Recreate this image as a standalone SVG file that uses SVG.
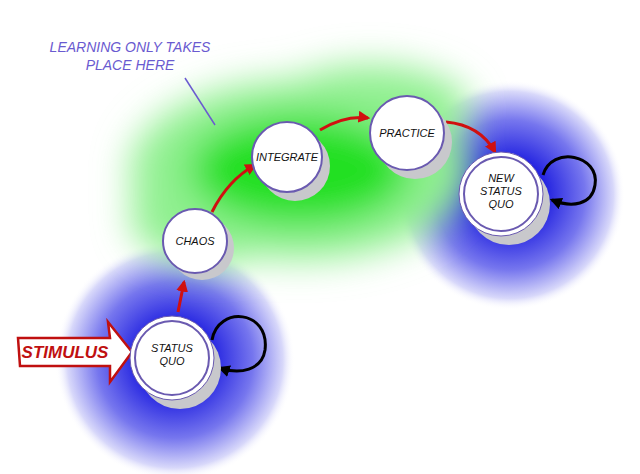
<svg xmlns="http://www.w3.org/2000/svg" width="640" height="474" viewBox="0 0 640 474">
<defs>
<radialGradient id="blue"><stop offset="0.3" stop-color="#2020e0"/><stop offset="0.65" stop-color="#7676ee"/><stop offset="0.9" stop-color="#d8d8fa"/><stop offset="1" stop-color="#ffffff" stop-opacity="0"/></radialGradient>
<filter id="soft" x="-30%" y="-30%" width="160%" height="160%"><feGaussianBlur stdDeviation="18"/></filter>
<marker id="ra" viewBox="0 0 10 10" refX="8" refY="5" markerWidth="4" markerHeight="4" orient="auto"><path d="M0,0 L10,5 L0,10 z" fill="#d01010"/></marker>
<marker id="ka" viewBox="0 0 10 10" refX="8" refY="5" markerWidth="4" markerHeight="4" orient="auto"><path d="M0,0 L10,5 L0,10 z" fill="#000"/></marker>
</defs>
<style>
.sh{fill:#c8c8cc}
.n{fill:#fff;stroke:#6a5ab0;stroke-width:2}
.t{font-family:"Liberation Sans",sans-serif;font-size:11px;font-style:italic;text-anchor:middle;fill:#111}
.r{fill:none;stroke:#d01010;stroke-width:3;marker-end:url(#ra)}
.k{fill:none;stroke:#000;stroke-width:3;marker-end:url(#ka)}
</style>
<rect width="640" height="474" fill="#fff"/>
<circle cx="175" cy="360" r="120" fill="url(#blue)"/>
<circle cx="510" cy="195" r="115" fill="url(#blue)"/>
<g filter="url(#soft)">
<g fill="#90f090">
<ellipse cx="300" cy="170" rx="170" ry="90"/>
<ellipse cx="370" cy="110" rx="100" ry="45"/>
<ellipse cx="210" cy="215" rx="80" ry="50"/>
</g>
<ellipse cx="300" cy="170" rx="110" ry="55" fill="#20e020"/>
</g>
<text x="130" y="52" font-family="Liberation Sans,sans-serif" font-size="14" font-style="italic" fill="#6a5ad0" text-anchor="middle">LEARNING ONLY TAKES</text>
<text x="130" y="70" font-family="Liberation Sans,sans-serif" font-size="14" font-style="italic" fill="#6a5ad0" text-anchor="middle">PLACE HERE</text>
<line x1="185" y1="78" x2="215" y2="125" stroke="#6a5ad0" stroke-width="1.5"/>
<g id="connectors">
<path class="r" d="M178,312 L184,282"/>
<path class="r" d="M212,212 Q228,180 255,165"/>
<path class="r" d="M320,130 Q345,115 368,118"/>
<path class="r" d="M446,122 Q480,125 495,152"/>
<path class="k" d="M212,340 C218,305 270,310 265,350 C262,370 240,375 220,368"/>
<path class="k" d="M543,175 C552,145 600,155 595,185 C592,205 572,208 552,200"/>
</g>
<g id="stimulus">
<path d="M18,338 L110,338 L108,322 L132,352 L110,382 L110,366 L20,366 Z" fill="#fff" stroke="#c01010" stroke-width="2.5"/>
<text x="65" y="358" font-family="Liberation Sans,sans-serif" font-size="17" font-style="italic" font-weight="bold" fill="#c01010" text-anchor="middle">STIMULUS</text>
</g>
<g id="status-quo"><circle class="sh" cx="180" cy="368" r="41"/><circle cx="172" cy="358" r="42" fill="#fff" stroke="#6a5ab0" stroke-width="1"/><circle class="n" cx="172" cy="358" r="37"/><text class="t" x="172" y="352">STATUS</text><text class="t" x="172" y="365">QUO</text></g>
<g id="chaos"><circle class="sh" cx="202" cy="248" r="32"/><circle class="n" cx="195" cy="241" r="32"/><text class="t" x="195" y="245">CHAOS</text></g>
<g id="integrate"><circle class="sh" cx="295" cy="166" r="35"/><circle class="n" cx="287" cy="157" r="35"/><text class="t" x="287" y="161">INTEGRATE</text></g>
<g id="practice"><circle class="sh" cx="415" cy="142" r="37"/><circle class="n" cx="407" cy="133" r="37"/><text class="t" x="407" y="137">PRACTICE</text></g>
<g id="new-status-quo"><circle class="sh" cx="509" cy="204" r="41"/><circle cx="501" cy="194" r="42" fill="#fff" stroke="#6a5ab0" stroke-width="1"/><circle class="n" cx="501" cy="194" r="37"/><text class="t" x="501" y="182">NEW</text><text class="t" x="501" y="195">STATUS</text><text class="t" x="501" y="208">QUO</text></g>
</svg>
